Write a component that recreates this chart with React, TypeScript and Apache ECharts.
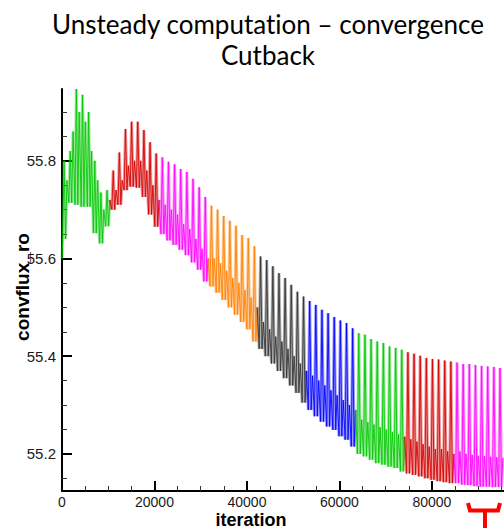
import React, { useEffect, useRef } from 'react';
import * as echarts from 'echarts';

// ---- text ----
const titleLine1 = 'Unsteady computation – convergence';
const titleLine2 = 'Cutback';
const xAxisName = 'iteration';
const yAxisName = 'convflux_ro';

// ---- axes ----
const xTickValues = [0, 20000, 40000, 60000, 80000];
const yTickValues = [55.2, 55.4, 55.6, 55.8];
const X_MIN = 0;
const X_MAX = 95600;
const Y_MIN = 55.124;
const Y_MAX = 55.947;

// ---- data: oscillation period (iterations) and start value ----
const PERIOD = 1328;
const START_VALUE = 55.6;

// segment 1 (green)
const greenAPeaks = [55.8, 55.82, 55.947, 55.935, 55.9, 55.8, 55.735, 55.74];
const greenATroughs = [55.64, 55.714, 55.71, 55.706, 55.706, 55.652, 55.631, 55.666];
const greenABumps = [55.76, 55.86, 55.9, 55.88, 55.82, 55.76, 55.7, 55.72];
// segment 2 (red)
const redAPeaks = [55.78, 55.817, 55.865, 55.88, 55.88, 55.863, 55.838, 55.815];
const redATroughs = [55.7, 55.71, 55.74, 55.747, 55.745, 55.726, 55.69, 55.665];
const redABumps = [55.74, 55.76, 55.79, 55.8, 55.8, 55.78, 55.75, 55.72];
// segment 3 (magenta)
const magentaAPeaks = [55.807, 55.798, 55.793, 55.783, 55.777, 55.763, 55.746, 55.726];
const magentaATroughs = [55.65, 55.637, 55.628, 55.618, 55.607, 55.592, 55.577, 55.553];
const magentaABumps = [55.71, 55.7, 55.69, 55.67, 55.66, 55.64, 55.62, 55.6];
// segment 4 (orange)
const orangePeaks = [55.708, 55.7, 55.687, 55.677, 55.667, 55.648, 55.642, 55.625];
const orangeTroughs = [55.543, 55.53, 55.515, 55.5, 55.485, 55.47, 55.455, 55.43];
const orangeBumps = [55.6, 55.59, 55.575, 55.56, 55.55, 55.535, 55.52, 55.5];
// segment 5 (black)
const blackPeaks = [55.604, 55.597, 55.584, 55.57, 55.56, 55.546, 55.532, 55.522];
const blackTroughs = [55.415, 55.4, 55.385, 55.37, 55.355, 55.34, 55.325, 55.305];
const blackBumps = [55.47, 55.455, 55.44, 55.43, 55.415, 55.4, 55.385, 55.37];
// segment 6 (blue)
const bluePeaks = [55.513, 55.505, 55.495, 55.488, 55.48, 55.473, 55.468, 55.457];
const blueTroughs = [55.29, 55.277, 55.266, 55.256, 55.249, 55.236, 55.229, 55.215];
const blueBumps = [55.36, 55.35, 55.34, 55.33, 55.32, 55.31, 55.3, 55.29];
// segment 7 (green)
const greenBPeaks = [55.447, 55.444, 55.435, 55.43, 55.427, 55.42, 55.417, 55.413];
const greenBTroughs = [55.2, 55.195, 55.188, 55.181, 55.178, 55.174, 55.171, 55.164];
const greenBBumps = [55.27, 55.265, 55.26, 55.255, 55.25, 55.245, 55.24, 55.235];
// segment 8 (red)
const redBPeaks = [55.408, 55.405, 55.401, 55.396, 55.394, 55.393, 55.391, 55.389];
const redBTroughs = [55.16, 55.157, 55.154, 55.15, 55.147, 55.144, 55.142, 55.14];
const redBBumps = [55.23, 55.225, 55.22, 55.215, 55.21, 55.21, 55.205, 55.2];
// segment 9 (magenta)
const magentaBPeaks = [55.387, 55.384, 55.384, 55.382, 55.38, 55.379, 55.378, 55.376];
const magentaBTroughs = [55.14, 55.137, 55.136, 55.134, 55.133, 55.133, 55.132, 55.132];
const magentaBBumps = [55.205, 55.2, 55.198, 55.196, 55.195, 55.194, 55.193, 55.192];

const segments = [
  { color: '#00c800', peaks: greenAPeaks, troughs: greenATroughs, bumps: greenABumps },
  { color: '#d40000', peaks: redAPeaks, troughs: redATroughs, bumps: redABumps },
  { color: '#ff00ff', peaks: magentaAPeaks, troughs: magentaATroughs, bumps: magentaABumps },
  { color: '#ff8000', peaks: orangePeaks, troughs: orangeTroughs, bumps: orangeBumps },
  { color: '#333333', peaks: blackPeaks, troughs: blackTroughs, bumps: blackBumps },
  { color: '#0000ff', peaks: bluePeaks, troughs: blueTroughs, bumps: blueBumps },
  { color: '#00c800', peaks: greenBPeaks, troughs: greenBTroughs, bumps: greenBBumps },
  { color: '#d40000', peaks: redBPeaks, troughs: redBTroughs, bumps: redBBumps },
  { color: '#ff00ff', peaks: magentaBPeaks, troughs: magentaBTroughs, bumps: magentaBBumps },
];

function buildSegmentData() {
  const out: number[][][] = [];
  let prev: number[] = [0, START_VALUE];
  let cycle = 0;
  segments.forEach((seg) => {
    const data: number[][] = [prev];
    for (let k = 0; k < seg.peaks.length; k++) {
      const s = cycle * PERIOD;
      data.push([s + 0.12 * PERIOD, seg.troughs[k]]);
      data.push([s + 0.34 * PERIOD, seg.peaks[k]]);
      data.push([s + 0.58 * PERIOD, seg.troughs[k]]);
      data.push([s + 0.8 * PERIOD, seg.bumps[k]]);
      cycle++;
    }
    prev = data[data.length - 1];
    out.push(data);
  });
  return out;
}

export default function App() {
  const ref = useRef<HTMLDivElement>(null);

  useEffect(() => {
    if (!ref.current) return;
    const chart = echarts.init(ref.current, null, { renderer: 'svg' });
    const segData = buildSegmentData();

    const under = segData.map((d, i) => ({
      type: 'line',
      data: d,
      showSymbol: false,
      symbol: 'none',
      silent: true,
      z: 2,
      lineStyle: { color: segments[i].color, width: 3, opacity: 0.4 },
    }));
    const top = segData.map((d, i) => ({
      type: 'line',
      data: d,
      showSymbol: false,
      symbol: 'none',
      silent: true,
      z: 3,
      lineStyle: { color: segments[i].color, width: 1, opacity: 0.85 },
    }));

    const axisLabelStyle = {
      color: '#1a1a1a',
      fontFamily: '"Liberation Sans", Arial, sans-serif',
      fontSize: 14,
    };

    chart.setOption({
      animation: false,
      backgroundColor: '#ffffff',
      grid: { left: 62, right: 0, top: 89, bottom: 37 },
      xAxis: {
        type: 'value',
        min: X_MIN,
        max: X_MAX,
        splitLine: { show: false },
        axisLine: { lineStyle: { color: '#000', width: 2 } },
        axisTick: {
          inside: true,
          length: 10,
          lineStyle: { color: '#000', width: 2 },
          customValues: xTickValues,
        },
        minorTick: { show: true, splitNumber: 4, length: 5, lineStyle: { color: '#333', width: 1 } },
        axisLabel: {
          ...axisLabelStyle,
          lineHeight: 14,
          margin: 4,
          customValues: xTickValues,
          formatter: (v: number) => (xTickValues.includes(v) ? String(v) : ''),
        },
      },
      yAxis: {
        type: 'value',
        min: Y_MIN,
        max: Y_MAX,
        splitLine: { show: false },
        axisLine: { lineStyle: { color: '#000', width: 2 } },
        axisTick: {
          inside: true,
          length: 10,
          lineStyle: { color: '#000', width: 2 },
          customValues: yTickValues,
        },
        minorTick: { show: true, splitNumber: 4, length: 5, lineStyle: { color: '#333', width: 1 } },
        axisLabel: {
          ...axisLabelStyle,
          fontSize: 15,
          margin: 6,
          customValues: yTickValues,
          formatter: (v: number) =>
            yTickValues.some((t) => Math.abs(t - v) < 1e-6) ? v.toFixed(1) : '',
        },
      },
      series: [...under, ...top],
      graphic: [
        {
          type: 'text',
          x: 268,
          y: 24,
          style: {
            text: titleLine1,
            font: '26px Lato, "Open Sans", sans-serif',
            fill: '#000',
            align: 'center',
            verticalAlign: 'middle',
          },
        },
        {
          type: 'text',
          x: 268,
          y: 55,
          style: {
            text: titleLine2,
            font: '26px Lato, "Open Sans", sans-serif',
            fill: '#000',
            align: 'center',
            verticalAlign: 'middle',
          },
        },
        {
          type: 'text',
          x: 251,
          y: 519.5,
          style: {
            text: xAxisName,
            font: 'bold 18px "Liberation Sans", Arial, sans-serif',
            fill: '#000',
            align: 'center',
            verticalAlign: 'middle',
          },
        },
        {
          type: 'text',
          x: 22,
          y: 287,
          rotation: Math.PI / 2,
          style: {
            text: yAxisName,
            font: 'bold 19px "Liberation Sans", Arial, sans-serif',
            fill: '#000',
            align: 'center',
            verticalAlign: 'middle',
          },
        },
        {
          type: 'polyline',
          shape: { points: [[468, 503], [470, 510.5], [498, 510.5], [500, 503]] },
          style: { stroke: '#ff0000', lineWidth: 4, fill: null },
        },
        {
          type: 'line',
          shape: { x1: 485, y1: 510, x2: 485, y2: 528 },
          style: { stroke: '#ff0000', lineWidth: 4 },
        },
      ],
    });

    // switch off the font's "ti" ligature so the title reads as plain text
    ref.current.querySelectorAll('text').forEach((t) => {
      const el = t as SVGTextElement;
      el.style.fontVariantLigatures = 'none';
      el.style.fontFeatureSettings = '"liga" 0, "clig" 0, "dlig" 0, "calt" 0';
      el.style.letterSpacing = '0.01px';
    });

    return () => chart.dispose();
  }, []);

  return (
    <div
      ref={ref}
      style={{ position: 'fixed', left: 0, top: 0, width: 504, height: 528, background: '#fff' }}
    />
  );
}
